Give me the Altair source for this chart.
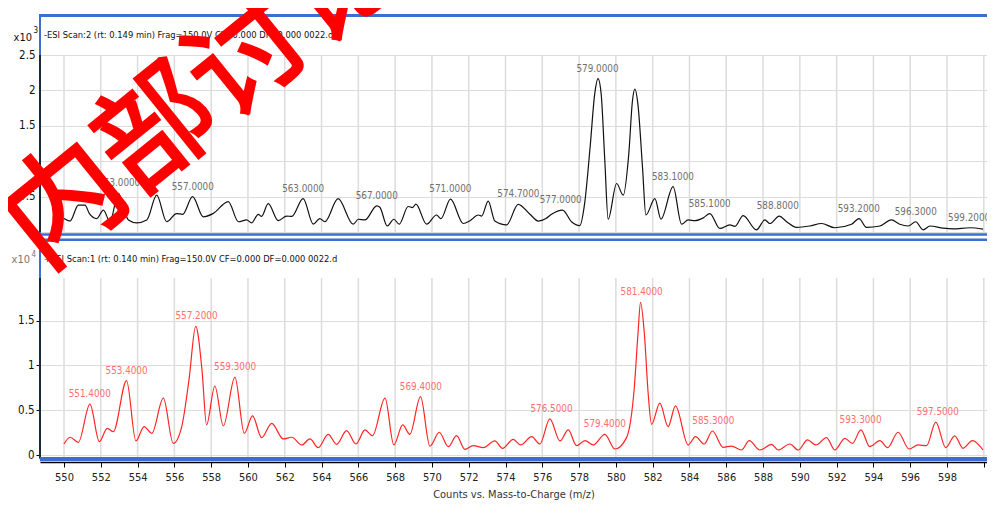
import altair as alt
import pandas as pd

# ---------------- data ----------------
top_mz = [550.00, 550.33, 550.78, 551.14, 551.38, 551.78, 552.14, 552.50, 552.95, 553.50,
          553.95, 554.50, 555.04, 555.58, 556.12, 556.45, 556.99, 557.57, 558.10, 558.93,
          559.48, 559.93, 560.20, 560.56, 560.74, 561.10, 561.65, 562.10, 562.38, 563.00,
          563.55, 563.90, 564.18, 564.90, 565.72, 566.00, 566.36, 567.00, 567.17, 567.57,
          567.93, 568.22, 568.71, 568.95, 569.13, 569.71, 570.25, 570.49, 571.01, 571.70,
          572.07, 572.52, 572.70, 573.06, 573.42, 574.06, 574.69, 575.33, 575.78, 576.20,
          576.50, 577.10, 577.59, 578.04, 578.30, 578.60, 578.85, 579.03, 579.20, 579.40,
          579.58, 580.04, 580.40, 580.70, 580.90, 581.03, 581.20, 581.45, 581.63, 582.12,
          582.45, 583.11, 583.57, 583.93, 584.29, 584.75, 585.11, 585.65, 586.20, 586.47,
          586.92, 587.64, 588.10, 588.37, 588.88, 589.28, 589.82, 590.54, 591.18, 591.90,
          592.81, 593.22, 593.62, 594.35, 594.98, 595.43, 595.89, 596.30, 596.70, 597.07,
          597.79, 598.33, 599.24, 599.96]
top_val = [0.19, 0.155, 0.38, 0.38, 0.26, 0.19, 0.31, 0.145, 0.545, 0.17,
           0.13, 0.17, 0.52, 0.145, 0.26, 0.25, 0.50, 0.215, 0.26, 0.43,
           0.145, 0.17, 0.13, 0.25, 0.22, 0.40, 0.16, 0.225, 0.22, 0.47,
           0.11, 0.19, 0.145, 0.47, 0.11, 0.18, 0.17, 0.37, 0.35, 0.085,
           0.18, 0.11, 0.36, 0.345, 0.395, 0.11, 0.24, 0.19, 0.465, 0.12,
           0.16, 0.24, 0.225, 0.435, 0.155, 0.10, 0.39, 0.25, 0.155, 0.19,
           0.25, 0.31, 0.145, 0.09, 0.40, 1.20, 1.95, 2.165, 1.95, 1.00,
           0.18, 0.685, 0.52, 1.10, 1.85, 2.02, 1.80, 0.90, 0.24, 0.47,
           0.18, 0.64, 0.11, 0.17, 0.16, 0.20, 0.26, 0.05, 0.10, 0.08,
           0.23, 0.03, 0.17, 0.12, 0.225, 0.145, 0.065, 0.085, 0.12, 0.06,
           0.11, 0.19, 0.065, 0.085, 0.17, 0.11, 0.085, 0.145, 0.03, 0.085,
           0.055, 0.045, 0.06, 0.04]

bot_mz = [550.00, 550.33, 550.78, 551.41, 551.92, 552.35, 552.68, 553.40, 553.91, 554.35,
          554.77, 555.40, 555.94, 556.40, 556.80, 557.16, 557.50, 557.75, 558.20, 558.66,
          559.29, 559.80, 560.25, 560.74, 561.29, 561.92, 562.38, 562.92, 563.37, 563.82,
          564.36, 564.82, 565.36, 565.87, 566.36, 566.77, 567.45, 567.93, 568.41, 568.80,
          569.38, 569.89, 570.40, 570.89, 571.34, 571.79, 572.24, 572.79, 573.42, 573.84,
          574.42, 574.82, 575.42, 575.87, 576.41, 576.96, 577.41, 577.86, 578.32, 578.77,
          579.40, 579.95, 580.58, 581.00, 581.20, 581.34, 581.55, 581.75, 581.94, 582.39,
          582.84, 583.24, 583.93, 584.33, 584.80, 585.25, 585.83, 586.28, 586.83, 587.25,
          587.83, 588.46, 588.82, 589.46, 589.91, 590.42, 590.87, 591.45, 591.90, 592.45,
          592.86, 593.32, 593.80, 594.35, 594.77, 595.34, 595.94, 596.43, 596.89, 597.39,
          597.93, 598.42, 598.87, 599.38, 599.96]
bot_val = [0.123, 0.198, 0.142, 0.567, 0.149, 0.298, 0.26, 0.83, 0.157, 0.317,
           0.242, 0.634, 0.13, 0.317, 0.85, 1.435, 0.95, 0.336, 0.77, 0.324,
           0.87, 0.242, 0.436, 0.194, 0.354, 0.179, 0.198, 0.112, 0.179, 0.082,
           0.231, 0.119, 0.272, 0.123, 0.28, 0.216, 0.634, 0.112, 0.336, 0.231,
           0.652, 0.10, 0.254, 0.093, 0.216, 0.063, 0.104, 0.082, 0.157, 0.075,
           0.175, 0.112, 0.205, 0.123, 0.403, 0.157, 0.28, 0.104, 0.16, 0.112,
           0.231, 0.067, 0.194, 0.75, 1.35, 1.704, 1.35, 0.70, 0.343, 0.58,
           0.317, 0.548, 0.112, 0.205, 0.123, 0.268, 0.086, 0.10, 0.056, 0.16,
           0.056, 0.119, 0.056, 0.123, 0.056, 0.168, 0.112, 0.194, 0.056, 0.186,
           0.13, 0.28, 0.093, 0.16, 0.082, 0.254, 0.067, 0.112, 0.104, 0.366,
           0.082, 0.213, 0.075, 0.16, 0.056]

top_peak_mz = [553.0, 557.0, 563.0, 567.0, 571.0, 574.7, 577.0, 579.0, 583.1, 585.1,
               588.8, 593.2, 596.3, 599.2]
top_peak_val = [0.545, 0.50, 0.47, 0.37, 0.465, 0.39, 0.31, 2.165, 0.64, 0.26,
                0.225, 0.19, 0.145, 0.06]
bot_peak_mz = [551.4, 553.4, 557.2, 559.3, 569.4, 576.5, 579.4, 581.4, 585.3, 593.3, 597.5]
bot_peak_val = [0.567, 0.83, 1.435, 0.87, 0.652, 0.403, 0.231, 1.704, 0.268, 0.28, 0.366]

x_ticks = list(range(550, 601, 2))
top_y_ticks = [0, 0.5, 1, 1.5, 2, 2.5]
bot_y_ticks = [0, 0.5, 1, 1.5]

top_title = "-ESI Scan:2 (rt: 0.149 min) Frag=150.0V CF=0.000 DF=0.000 0022.d"
bot_title = "+ESI Scan:1 (rt: 0.140 min) Frag=150.0V CF=0.000 DF=0.000 0022.d"
x_title = "Counts vs. Mass-to-Charge (m/z)"
watermark = "内部讨论"

# ---------------- layout ----------------
W, H = 947, 407
X_DOMAIN = [548.695, 600.174]
TOP_DOMAIN = [-3.2486, 2.5]
BOT_DOMAIN = [-0.078, 4.464]
FONT = "DejaVu Sans Condensed, Liberation Sans Narrow, Liberation Sans, sans-serif"
BLUE = "#3a6fd0"
GRID = "#dcdcdc"

top_df = pd.DataFrame({"mz": top_mz, "v": top_val})
bot_df = pd.DataFrame({"mz": bot_mz, "v": bot_val})
tpk = pd.DataFrame({"mz": top_peak_mz, "v": top_peak_val})
bpk = pd.DataFrame({"mz": bot_peak_mz, "v": bot_peak_val})
ticks_df = pd.DataFrame({"mz": x_ticks})
one = pd.DataFrame({"k": [0]})

xs = alt.Scale(domain=X_DOMAIN, nice=False, zero=False)
xaxis = alt.Axis(values=x_ticks, grid=False, title=x_title,
                 labelExpr="datum.value >= 600 ? '' : datum.label",
                 labelFont=FONT, labelFontSize=11, labelColor="#222",
                 tickColor="#000", tickSize=5, domainColor="#000", domainWidth=1.5,
                 labelPadding=4, titleFont=FONT, titleFontSize=11,
                 titleFontWeight="normal", titleColor="#333", titlePadding=6)


def X():
    return alt.X("mz:Q", scale=xs, axis=xaxis)


ts = alt.Scale(domain=TOP_DOMAIN, nice=False, zero=False)
taxis = alt.Axis(values=top_y_ticks, orient="left", format=".1~f", grid=True,
                 gridColor=GRID, gridWidth=1.2, domain=False, ticks=False,
                 labelFont=FONT, labelFontSize=11.5, labelColor="#111",
                 labelPadding=5, title=None)
bs = alt.Scale(domain=BOT_DOMAIN, nice=False, zero=False)
baxis = alt.Axis(values=bot_y_ticks, orient="left", format=".1~f", grid=True,
                 gridColor=GRID, gridWidth=1.2, domain=False, ticks=True,
                 tickSize=4, tickColor="#000",
                 labelFont=FONT, labelFontSize=11.5, labelColor="#111",
                 labelPadding=2, title=None)

top_vgrid = alt.Chart(ticks_df).mark_rule(color=GRID, strokeWidth=1.5).encode(
    x=X(), y=alt.Y(datum=2.5, scale=ts, axis=taxis), y2=alt.datum(0))
top_line = alt.Chart(top_df).mark_line(color="#111", strokeWidth=1.2,
                                       interpolate="monotone").encode(
    x=X(), y=alt.Y("v:Q", scale=ts, axis=taxis))
top_lab = alt.Chart(tpk).mark_text(font=FONT, fontSize=9.8, color="#6f6f6f",
                                   baseline="bottom", dy=-5).encode(
    x=X(), y=alt.Y("v:Q", scale=ts, axis=taxis),
    text=alt.Text("mz:Q", format=".4f"))
top_group = alt.layer(top_vgrid, top_line, top_lab)

bot_vgrid = alt.Chart(ticks_df).mark_rule(color=GRID, strokeWidth=1.5).encode(
    x=X(), y=alt.Y(datum=1.975, scale=bs, axis=baxis), y2=alt.datum(-0.03))
bot_line = alt.Chart(bot_df).mark_line(color="#ff2424", strokeWidth=1.2,
                                       interpolate="monotone").encode(
    x=X(), y=alt.Y("v:Q", scale=bs, axis=baxis))
bot_lab = alt.Chart(bpk).mark_text(font=FONT, fontSize=9.8, color="#ff6e6e",
                                   baseline="bottom", dy=-5).encode(
    x=X(), y=alt.Y("v:Q", scale=bs, axis=baxis),
    text=alt.Text("mz:Q", format=".4f"))
bot_group = alt.layer(bot_vgrid, bot_line, bot_lab)


def hrule(y, color, width, x1=0, x2=W):
    return alt.Chart(one).mark_rule(color=color, strokeWidth=width).encode(
        x=alt.value(x1), x2=alt.value(x2), y=alt.value(y))


def vrule(x, y1, y2, color, width):
    return alt.Chart(one).mark_rule(color=color, strokeWidth=width).encode(
        x=alt.value(x), y=alt.value(y1), y2=alt.value(y2))


def label(text, x, y, size, color, align="left", font=FONT, **kw):
    return alt.Chart(one).mark_text(text=text, font=font, fontSize=size, color=color,
                                    align=align, baseline="middle", **kw).encode(
        x=alt.value(x), y=alt.value(y))


decor = [
    hrule(-39.5, BLUE, 3),
    vrule(0, -41, 404, BLUE, 2),
    vrule(0, 0, 177, "#111", 1.5),
    vrule(0, 223, 403, "#111", 1.5),
    hrule(179.5, BLUE, 2.5),
    hrule(184.7, BLUE, 2.5),
    hrule(404, BLUE, 4),
    label(top_title, 4, -20, 9.3, "#111"),
    label(bot_title, 4, 204, 9.3, "#111"),
    label("x10", -8, -17.5, 11, "#111", align="right"),
    label("3", -6.5, -24, 8, "#111"),
    label("x10", -10, 205, 11, "#777", align="right"),
    label("4", -8.5, 199.5, 8, "#777"),
    label(watermark, 165, 41, 118, "#ff0000", align="center",
          font="Noto Sans CJK SC", angle=321, fontWeight="normal",
          stroke="#ff0000", strokeWidth=2.5),
]

chart = alt.layer(top_group, bot_group, *decor).resolve_scale(y="independent").properties(
    width=W, height=H,
    autosize=alt.AutoSizeParams(type="none"),
    padding={"left": 32, "top": 47, "right": 0, "bottom": 38},
).configure_view(stroke=None).configure(background="white")

chart.save("out.html", embed_options={"renderer": "svg", "actions": False})
